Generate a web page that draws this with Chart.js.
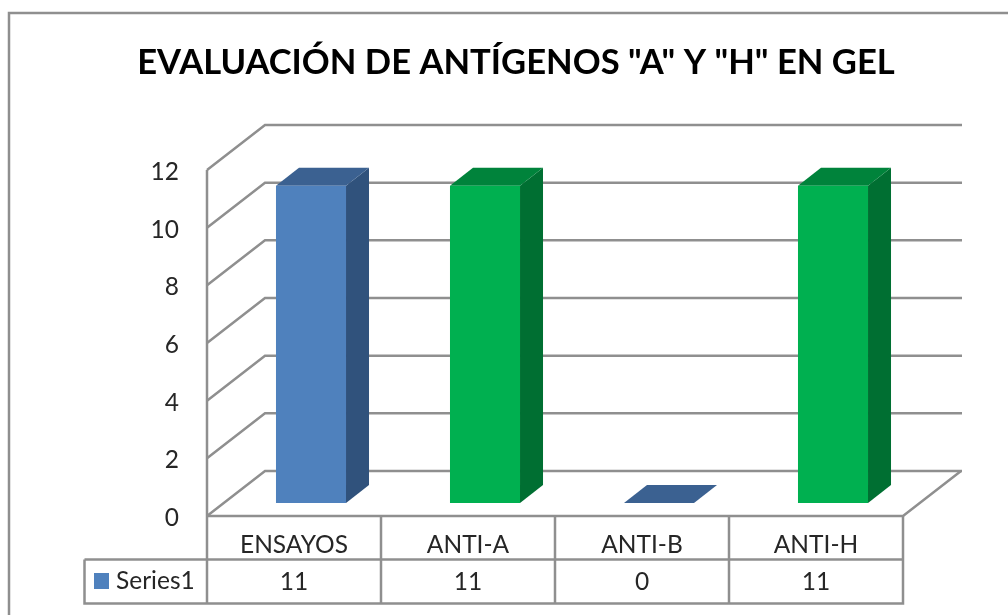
<!DOCTYPE html>
<html>
<head>
<meta charset="utf-8">
<script src="https://cdn.jsdelivr.net/npm/chart.js@4"></script>
<style>
html,body{margin:0;padding:0;background:#fff;overflow:hidden}
#wrap{width:1008px;height:615px;position:relative}
canvas{display:block;filter:blur(0.45px)}
</style>
</head>
<body>
<div id="wrap"><canvas id="c" width="1008" height="615"></canvas></div>
<script>
const titleText = 'EVALUACIÓN DE ANTÍGENOS "A" Y "H" EN GEL';
const categories = ['ENSAYOS', 'ANTI-A', 'ANTI-B', 'ANTI-H'];
const seriesName = 'Series1';
const seriesValues = [11, 11, 0, 11];
const yMax = 12;
const yStep = 2;

const frontColors = ['#4f81bd', '#00b050', '#4f81bd', '#00b050'];
const sideColors  = ['#30527c', '#006f32', '#30527c', '#006f32'];
const topColors   = ['#3b6191', '#00833b', '#3b6191', '#00833b'];
const lineColor = '#8f8f8f';
const textColor = '#262626';
const FONT = 'Lato, Carlito, sans-serif';
const LABEL_SIZE = 24.5;

const WALL_DX = 58, WALL_DY = 45;   // depth of the plot box
const BAR_DX = 23, BAR_DY = 18;     // depth of each column
const BAR_SHIFT_X = 17, BAR_SHIFT_Y = -13; // columns stand inside the floor
const Y_LABEL_NUDGE = 2;

function seg(ctx, pts) {
  ctx.beginPath();
  pts.forEach((p, i) => i ? ctx.lineTo(p[0], p[1]) : ctx.moveTo(p[0], p[1]));
  ctx.stroke();
}
function poly(ctx, pts, color) {
  ctx.fillStyle = color;
  ctx.beginPath();
  pts.forEach((p, i) => i ? ctx.lineTo(p[0], p[1]) : ctx.moveTo(p[0], p[1]));
  ctx.closePath();
  ctx.fill();
}

const box3d = {
  id: 'box3d',
  afterLayout(chart) {
    // the original frame runs past the right edge, so its title sits right of centre
    chart.titleBlock.left = 9;
    chart.titleBlock.right = 1023;
  },
  beforeDraw(chart) {
    // value labels sit slightly below their gridline ends in the original
    chart.scales.y.getLabelItems().forEach(item => {
      item.options = Object.assign({}, item.options, {
        translation: [item.options.translation[0], item.options.translation[1] + Y_LABEL_NUDGE]
      });
    });
  },
  beforeDatasetsDraw(chart) {
    const { ctx, chartArea: a, scales: { x, y } } = chart;
    ctx.save();
    ctx.strokeStyle = lineColor;
    ctx.lineWidth = 2.5;
    // outer chart frame
    seg(ctx, [[9, chart.height], [9, 13], [chart.width, 13]]);
    // walls: one polyline per y tick
    y.ticks.forEach(t => {
      const py = y.getPixelForValue(t.value);
      seg(ctx, [[a.left, py], [a.left + WALL_DX, py - WALL_DY], [a.right + WALL_DX + 1, py - WALL_DY]]);
    });
    seg(ctx, [[a.left, a.top], [a.left, a.bottom]]);
    // floor front and right edges
    const y0 = y.getPixelForValue(0);
    seg(ctx, [[a.left, y0], [a.right, y0], [a.right + WALL_DX, y0 - WALL_DY]]);

    // data table
    const half = (x.getPixelForValue(1) - x.getPixelForValue(0)) / 2;
    const rowMid = 559.5, rowBot = 603.5, keyLeft = 84.5;
    seg(ctx, [[keyLeft, rowMid], [a.right, rowMid]]);
    seg(ctx, [[keyLeft, rowMid], [keyLeft, rowBot], [a.right, rowBot], [a.right, y0]]);
    seg(ctx, [[a.left, y0], [a.left, rowBot]]);
    ctx.font = LABEL_SIZE + 'px ' + FONT;
    ctx.textBaseline = 'middle';
    categories.forEach((c, i) => {
      const cx = x.getPixelForValue(i);
      if (i < categories.length - 1) seg(ctx, [[cx + half, y0], [cx + half, rowBot]]);
      ctx.fillStyle = textColor;
      ctx.textAlign = 'center';
      ctx.fillText(String(seriesValues[i]), cx, 582);
    });
    ctx.fillStyle = frontColors[0];
    ctx.fillRect(94, 573, 15, 16);
    ctx.fillStyle = textColor;
    ctx.textAlign = 'left';
    ctx.fillText(seriesName, 116, 581);
    ctx.restore();
  },
  beforeDatasetDraw(chart, args) {
    const { ctx } = chart;
    ctx.save();
    ctx.translate(BAR_SHIFT_X, BAR_SHIFT_Y);
    args.meta.data.forEach((bar, i) => {
      const p = bar.getProps(['x', 'y', 'base', 'width'], true);
      const l = p.x - p.width / 2, r = p.x + p.width / 2;
      if (p.base - p.y > 0.5) {
        poly(ctx, [[r, p.y], [r + BAR_DX, p.y - BAR_DY], [r + BAR_DX, p.base - BAR_DY], [r, p.base]], sideColors[i]);
      }
      poly(ctx, [[l, p.y], [l + BAR_DX, p.y - BAR_DY], [r + BAR_DX, p.y - BAR_DY], [r, p.y]], topColors[i]);
    });
  },
  afterDatasetDraw(chart) {
    chart.ctx.restore();
  }
};

new Chart(document.getElementById('c'), {
  type: 'bar',
  data: {
    labels: categories,
    datasets: [{
      label: seriesName,
      data: seriesValues,
      backgroundColor: frontColors,
      borderWidth: 0,
      categoryPercentage: 0.805,
      barPercentage: 0.5,
      clip: false
    }]
  },
  options: {
    responsive: false,
    animation: false,
    events: [],
    layout: { padding: { top: 0, left: 0, right: 105, bottom: 0 } },
    plugins: {
      legend: { display: false },
      tooltip: { enabled: false },
      title: {
        display: true,
        text: titleText,
        color: '#000',
        font: { family: FONT, size: 34.6, weight: 'bold', lineHeight: 1.2 },
        padding: { top: 42, bottom: 86.5 }
      }
    },
    scales: {
      x: {
        grid: { display: false },
        border: { display: false },
        afterFit(s) { s.height = 99; },
        ticks: {
          color: textColor,
          font: { family: FONT, size: LABEL_SIZE },
          padding: 6,
          maxRotation: 0
        }
      },
      y: {
        min: 0,
        max: yMax,
        grid: { display: false },
        border: { display: false },
        afterFit(s) { s.width = 207; },
        ticks: {
          stepSize: yStep,
          color: textColor,
          font: { family: FONT, size: LABEL_SIZE },
          padding: 20
        }
      }
    }
  },
  plugins: [box3d]
});
</script>
</body>
</html>
